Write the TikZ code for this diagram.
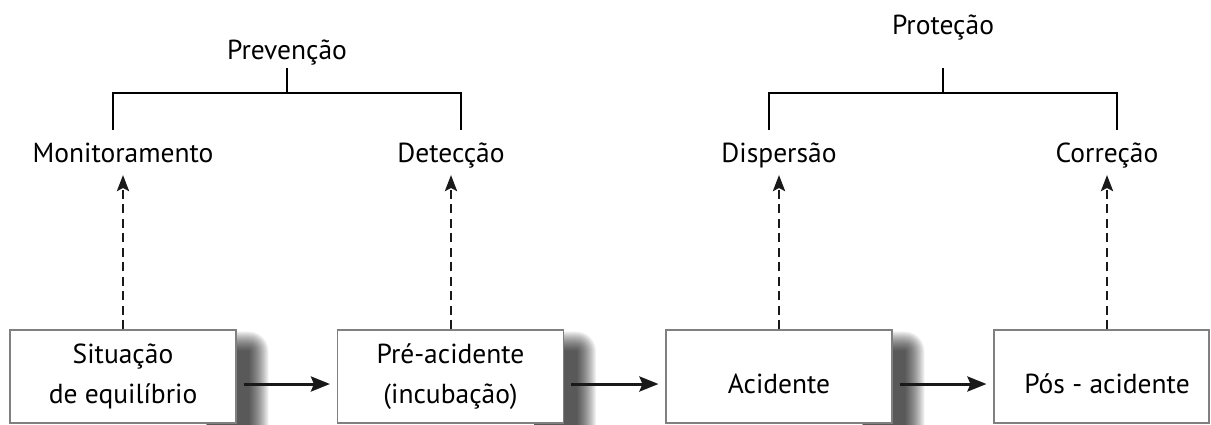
\documentclass[tikz,border=0pt]{standalone}
\usepackage{fontspec}
\setmainfont{PT Sans}
\usetikzlibrary{arrows.meta,calc}
\pgfdeclarelayer{bg}
\pgfsetlayers{bg,main}
\tikzset{
  box/.style={draw=black!50, line width=1.1pt, fill=white, minimum width=226pt,
    minimum height=93pt, inner sep=0pt, align=center, font=\fontsize{27.5}{40}\selectfont},
  onebox/.style={box, text height=34pt, text depth=0pt},
  lab/.style={anchor=base, inner sep=0pt, font=\fontsize{27.5}{32}\selectfont},
  bracket/.style={line width=1.2pt, black},
  harrow/.style={line width=3pt, black!90, -{Stealth[length=19pt,width=15pt,inset=3pt]}},
  varrow/.style={line width=2.8pt, black!90, dash pattern=on 9pt off 5.5pt,
    -{Stealth[length=16pt,width=12pt,inset=3pt]}},
}
\newcommand\boxshade[1]{%
  \begin{pgfonlayer}{bg}
  \foreach \k in {1,...,20}{%
    \fill[black, opacity=0.05, rounded corners=\k pt]
      ($(#1.north east)+(-30,22-\k)$) rectangle ($(#1.south east)+(12+\k,25)$);
  }
  \end{pgfonlayer}}
\begin{document}
\begin{tikzpicture}[x=1pt, y=-1pt]
\useasboundingbox (0,0) rectangle (1211,424);
% boxes
\node[box] (b1) at (123,376.5) {Situação\\de equilíbrio};
\node[box] (b2) at (450.5,376.5) {Pré-acidente\\(incubação)};
\node[onebox] (b3) at (779,376.5) {Acidente};
\node[onebox, minimum width=215pt] (b4) at (1101.5,376.5) {\hspace*{11pt}Pós - acidente};
\boxshade{b1}
\boxshade{b2}
\boxshade{b3}
% labels
\node[lab] (l1) at (123,162) {Monitoramento};
\node[lab] (l2) at (451,162) {Detecção};
\node[lab] (l3) at (779,162) {Dispersão};
\node[lab] (l4) at (1107,162) {Correção};
\node[lab] (p1) at (287,59) {Prevenção};
\node[lab] (p2) at (943,34) {Proteção};
% brackets
\draw[bracket] (p1.base |- 0,68) -- (p1.base |- 0,93);
\draw[bracket] (113,130) -- (113,93) -- (461,93) -- (461,130);
\draw[bracket] (p2.base |- 0,68) -- (p2.base |- 0,93);
\draw[bracket] (769,130) -- (769,93) -- (1117,93) -- (1117,130);
% dashed arrows
\draw[varrow] (b1.north) -- ([yshift=-13pt]l1.base);
\draw[varrow] (b2.north -| l2.base) -- ([yshift=-13pt]l2.base);
\draw[varrow] (b3.north) -- ([yshift=-13pt]l3.base);
\draw[varrow] (b4.north -| l4.base) -- ([yshift=-13pt]l4.base);
% horizontal arrows
\draw[harrow] ([shift={(7pt,-7.5pt)}]b1.east) -- ([shift={(-7pt,-7.5pt)}]b2.west);
\draw[harrow] ([shift={(7pt,-7.5pt)}]b2.east) -- ([shift={(-7pt,-7.5pt)}]b3.west);
\draw[harrow] ([shift={(7pt,-7.5pt)}]b3.east) -- ([shift={(-7pt,-7.5pt)}]b4.west);
\end{tikzpicture}
\end{document}
